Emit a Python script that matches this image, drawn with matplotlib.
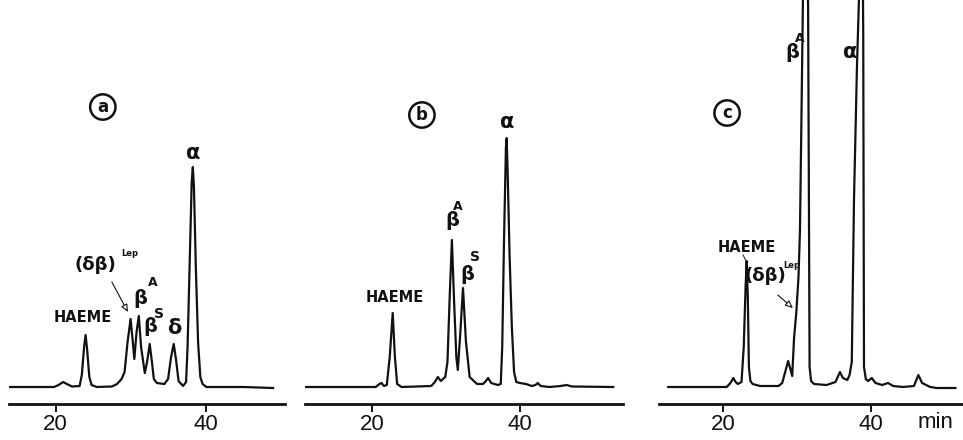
import matplotlib
matplotlib.use("Agg")
import matplotlib.pyplot as plt

# ---------------- data (retention time in min, detector signal in arbitrary units) -------------
time_a = [13.8, 19.8, 20.4, 21.0, 21.5, 22.2, 23.2, 23.5, 23.8, 24.0, 24.2, 24.5, 24.8, 25.5,
          27.5, 28.2, 28.8, 29.2, 29.6, 30.0, 30.3, 30.5, 30.8, 31.1, 31.4, 31.9, 32.2, 32.55,
          32.85, 33.1, 33.5, 34.5, 35.0, 35.4, 35.75, 36.05, 36.4, 37.0, 37.4, 37.6, 37.9,
          38.15, 38.3, 38.45, 38.7, 39.0, 39.3, 39.6, 40.1, 45.0, 49.0]
signal_a = [0, 0, 2, 5, 3, 0.5, 1, 12, 40, 52, 38, 10, 2, 0,
            0.5, 3, 8, 15, 45, 68, 45, 28, 55, 71, 40, 14, 25, 43,
            25, 8, 4, 3, 8, 30, 43, 28, 6, 1, 5, 40, 130,
            205, 220, 200, 120, 45, 10, 3, 0, 0, -1]

time_b = [10.95, 20.5, 21.0, 21.3, 21.6, 22.0, 22.4, 22.8, 23.1, 23.4, 24.0, 28.0, 28.5, 28.9,
          29.3, 29.9, 30.2, 30.5, 30.8, 31.1, 31.4, 31.6, 31.9, 32.3, 32.7, 33.2, 34.2, 35.0,
          35.4, 35.7, 36.1, 37.0, 37.4, 37.6, 37.85, 38.1, 38.2, 38.35, 38.6, 38.9, 39.2, 39.5,
          40.0, 40.8, 41.6, 42.1, 42.4, 42.8, 44.0, 45.5, 46.3, 47.0, 52.6]
signal_b = [0, 0, 3, 4, 1, 2, 30, 74, 30, 3, 0, 1, 5, 10,
            6, 10, 25, 90, 147, 85, 30, 17, 50, 99, 45, 10, 3, 3,
            6, 9, 4, 2, 3, 40, 150, 240, 249, 210, 130, 60, 15, 5,
            4, 3, 1, 2, 4, 1, 0, 1, 2, 0.5, 0]

time_c = [12.6, 20.5, 21.0, 21.4, 21.7, 22.0, 22.5, 22.8, 23.05, 23.2, 23.35, 23.5, 23.7, 24.0,
          25.0, 27.5, 28.0, 28.4, 28.8, 29.1, 29.35, 29.6, 29.9, 30.2, 30.4, 30.6, 30.8, 31.2,
          31.5, 31.6, 31.7, 31.9, 32.3, 34.0, 35.2, 35.8, 36.2, 36.8, 37.1, 37.4, 37.7, 38.1,
          38.5, 38.8, 38.95, 39.05, 39.3, 39.6, 40.1, 40.6, 41.5, 42.3, 43.0, 44.3, 45.8, 46.4,
          46.9, 48.0, 48.9, 51.4]
signal_c = [0, 0, 4, 9, 5, 3, 5, 40, 100, 126, 90, 20, 6, 3,
            1, 1, 4, 15, 26, 18, 11, 49, 74, 110, 157, 270, 387, 520,
            380, 200, 20, 6, 3, 2, 5, 15, 9, 7, 12, 25, 187, 320,
            420, 520, 350, 20, 8, 6, 9, 4, 2, 4, 1, 0, 1, 12,
            4, 0, -1, -1]

tick_values = [20, 40]
tick_labels = ["20", "40"]
panel_letters = ["a", "b", "c"]

# ---------------- layout ----------------
W, H = 963, 440
fig = plt.figure(figsize=(W / 100, H / 100), dpi=100)
ink = "#111111"

panels = [
    dict(t=time_a, s=signal_a, px=(9, 276), xlim=(13.79, 50.59)),
    dict(t=time_b, s=signal_b, px=(305, 318), xlim=(10.95, 53.92)),
    dict(t=time_c, s=signal_c, px=(659, 304), xlim=(11.35, 52.43)),
]

axes = []
for p in panels:
    ax = fig.add_axes([p["px"][0] / W, 36 / H, p["px"][1] / W, 404 / H])
    ax.patch.set_alpha(0)
    ax.plot(p["t"], p["s"], color=ink, lw=1.6, solid_joinstyle="round")
    ax.set_xlim(*p["xlim"])
    ax.set_ylim(-17, 387)
    for side in ("top", "left", "right"):
        ax.spines[side].set_visible(False)
    ax.spines["bottom"].set_linewidth(2.0)
    ax.spines["bottom"].set_color(ink)
    ax.set_yticks([])
    ax.set_xticks(tick_values)
    ax.set_xticklabels(tick_labels, fontfamily="Liberation Sans")
    ax.tick_params(axis="x", direction="out", length=6, width=1.4, pad=1,
                   labelsize=16, color=ink, labelcolor=ink)
    axes.append(ax)

ax_a, ax_b, ax_c = axes

bold = dict(fontweight="bold", color=ink, ha="center", va="center", clip_on=False)


def label(ax, s, x, y, size):
    ax.text(x, y, s, fontsize=size, **bold)


def circled(ax, letter, x, y):
    ax.text(x, y, letter, fontsize=12, fontweight="bold", color=ink, ha="center",
            va="center", bbox=dict(boxstyle="circle,pad=0.22", fc="white", ec=ink, lw=1.8))


def arrow(ax, x0, y0, x1, y1):
    ax.annotate("", xy=(x1, y1), xytext=(x0, y0), annotation_clip=False,
                arrowprops=dict(arrowstyle="-|>,head_length=0.45,head_width=0.2",
                                lw=0.8, ec=ink, fc="white", shrinkA=0, shrinkB=0))


# panel a
circled(ax_a, panel_letters[0], 26.3, 280)
label(ax_a, "α", 38.3, 234, 15)
label(ax_a, "HAEME", 23.65, 70, 10.5)
label(ax_a, "(δβ)", 25.25, 122, 13)
label(ax_a, "Lep", 29.9, 134, 6)
arrow(ax_a, 27.5, 105, 29.65, 75)
label(ax_a, "β", 31.3, 89, 14)
label(ax_a, "A", 33.0, 105, 9)
label(ax_a, "β", 32.6, 60, 14)
label(ax_a, "S", 33.85, 73, 10)
label(ax_a, "δ", 35.8, 59, 15)

# panel b
circled(ax_b, panel_letters[1], 26.75, 272)
label(ax_b, "α", 38.25, 265, 15)
label(ax_b, "HAEME", 23.1, 90, 10.5)
label(ax_b, "β", 30.8, 167, 14)
label(ax_b, "A", 31.6, 181, 9)
label(ax_b, "β", 32.85, 112, 14)
label(ax_b, "S", 33.9, 130, 10)

# panel c
circled(ax_c, panel_letters[2], 20.55, 274)
label(ax_c, "β", 29.3, 334, 14)
label(ax_c, "A", 30.4, 348, 9)
label(ax_c, "α", 37.2, 335, 15)
label(ax_c, "HAEME", 23.25, 140, 10.5)
ax_c.plot([22.7, 23.2], [132, 125], color=ink, lw=0.7, clip_on=False)
label(ax_c, "(δβ)", 25.7, 111, 13)
label(ax_c, "Lep", 29.3, 122, 6)
arrow(ax_c, 27.4, 92, 29.45, 79)

fig.text(935 / W, 1 - 422 / H, "min", fontsize=16, fontfamily="Liberation Sans",
         color=ink, ha="center", va="center")

fig.savefig("out.png", dpi=100, facecolor="white")
